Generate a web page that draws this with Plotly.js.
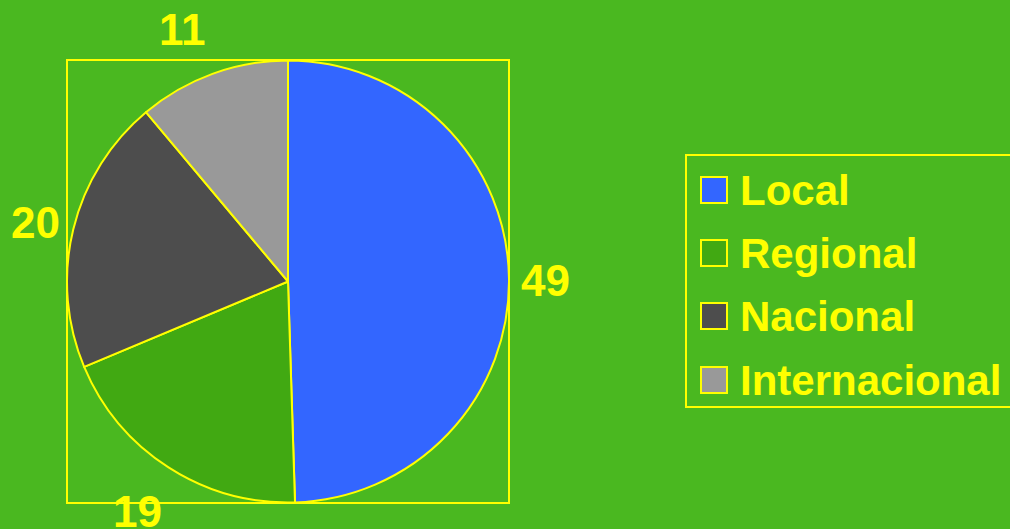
<!DOCTYPE html>
<html><head><meta charset="utf-8">
<script src="https://cdn.plot.ly/plotly-3.0.1.min.js"></script>
<style>html,body{margin:0;padding:0;background:#4AB820;}#c{width:1010px;height:529px;}</style>
</head><body><div id="c"></div>
<script>
const categories = ["Local", "Regional", "Nacional", "Internacional"];
const values = [49, 19, 20, 11];
const colors = ["#3366FF", "#41A912", "#4D4D4D", "#999999"];

const W = 1010, H = 529;
const px = x => x / W;
const py = y => 1 - y / H;

// label positions (pixels) for each slice value
const labelPos = [[545, 280], [137, 511], [35, 222], [182, 30]];

const annotations = values.map((v, i) => ({
  x: px(labelPos[i][0]), y: py(labelPos[i][1]), xref: 'paper', yref: 'paper',
  text: String(v), showarrow: false, xanchor: 'center', yanchor: 'middle',
  font: {family: 'Liberation Sans, Arial', size: 44, color: '#FFFF00', weight: 'bold'}
}));

const shapes = [
  {type: 'rect', xref: 'paper', yref: 'paper', x0: px(67), x1: px(509), y0: py(503), y1: py(60),
   line: {color: '#FFFF00', width: 2}, fillcolor: 'rgba(0,0,0,0)', layer: 'below'},
  {type: 'rect', xref: 'paper', yref: 'paper', x0: px(686), x1: px(1015), y0: py(407), y1: py(155),
   line: {color: '#FFFF00', width: 2}, fillcolor: 'rgba(0,0,0,0)'}
];

const rowY = [190, 253, 316, 380];
categories.forEach((c, i) => {
  shapes.push({type: 'rect', xref: 'paper', yref: 'paper',
    x0: px(701), x1: px(727), y0: py(rowY[i] + 13), y1: py(rowY[i] - 13),
    line: {color: '#FFFF00', width: 2}, fillcolor: colors[i]});
  annotations.push({x: px(738), y: py(rowY[i]), xref: 'paper', yref: 'paper',
    text: c, showarrow: false, xanchor: 'left', yanchor: 'middle',
    font: {family: 'Liberation Sans, Arial', size: 42, color: '#FFFF00', weight: 'bold'}});
});

const data = [{
  type: 'pie', labels: categories, values: values, sort: false,
  direction: 'clockwise', rotation: 0,
  marker: {colors: colors, line: {color: '#FFFF00', width: 2}},
  textinfo: 'none', hoverinfo: 'label+value', showlegend: false,
  domain: {x: [px(67), px(509)], y: [py(503), py(60)]}
}];

const layout = {
  width: W, height: H, margin: {l: 0, r: 0, t: 0, b: 0},
  paper_bgcolor: '#4AB820', plot_bgcolor: '#4AB820',
  showlegend: false, shapes: shapes, annotations: annotations
};

Plotly.newPlot('c', data, layout, {displayModeBar: false});
</script></body></html>
